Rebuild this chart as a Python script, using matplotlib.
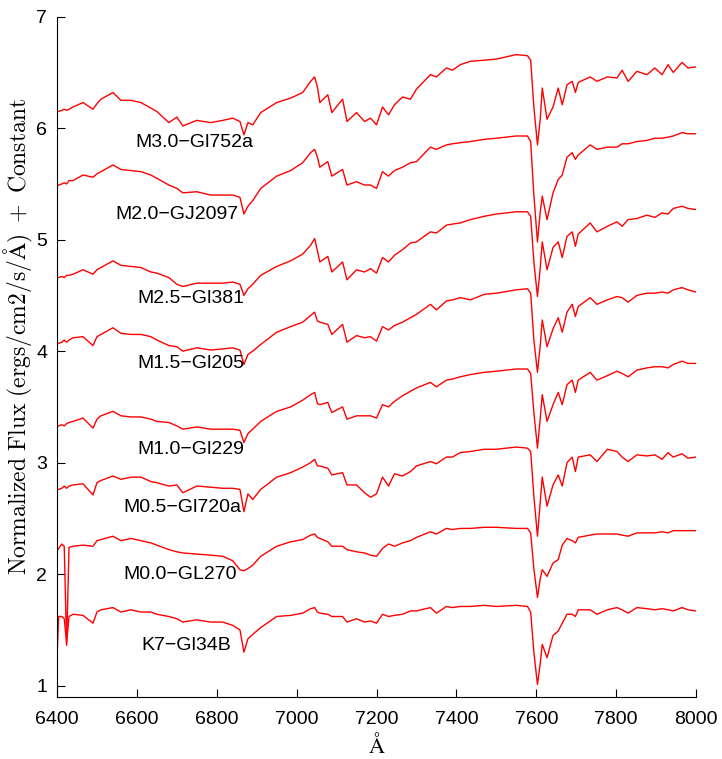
import matplotlib.pyplot as plt

plt.rcParams['font.family'] = ['Liberation Sans', 'DejaVu Sans']
plt.rcParams['mathtext.fontset'] = 'cm'

# wavelength grid (Angstrom), shared by all spectra
wave = [6400, 6404, 6412, 6418, 6424, 6430, 6440, 6465, 6490, 6500, 6510,
        6540, 6560, 6585, 6610, 6635, 6650, 6680, 6700, 6715, 6750,
        6785, 6815, 6840, 6858, 6868, 6878, 6890, 6910, 6950, 6985,
        7015, 7035, 7045, 7052, 7058, 7078, 7088, 7115, 7126, 7150,
        7170, 7185, 7200, 7215, 7230, 7245, 7265, 7285, 7300, 7335,
        7350, 7375, 7390, 7410, 7435, 7470, 7500, 7550, 7578, 7586,
        7594, 7603, 7610, 7615, 7627, 7642, 7655, 7665, 7677, 7690,
        7698, 7705, 7735, 7752, 7778, 7802, 7815, 7830, 7852, 7877,
        7897, 7915, 7930, 7943, 7965, 7980, 8000]

m30 = [6.15, 6.15, 6.16, 6.17, 6.16, 6.17, 6.19, 6.23, 6.17, 6.22, 6.26,
       6.32, 6.25, 6.25, 6.23, 6.18, 6.15, 6.05, 6.10, 6.02, 6.07,
       6.05, 6.07, 6.09, 6.06, 5.94, 6.05, 6.03, 6.14, 6.23, 6.27,
       6.32, 6.42, 6.46, 6.37, 6.23, 6.30, 6.14, 6.26, 6.06, 6.14,
       6.06, 6.09, 6.03, 6.19, 6.12, 6.21, 6.28, 6.26, 6.35, 6.48,
       6.46, 6.54, 6.52, 6.57, 6.60, 6.61, 6.62, 6.66, 6.65, 6.61,
       6.19, 5.85, 6.08, 6.36, 6.08, 6.19, 6.36, 6.21, 6.39, 6.42,
       6.32, 6.41, 6.46, 6.42, 6.46, 6.45, 6.52, 6.42, 6.51, 6.48,
       6.54, 6.48, 6.57, 6.50, 6.59, 6.54, 6.55]

m20 = [5.48, 5.49, 5.50, 5.51, 5.50, 5.53, 5.53, 5.58, 5.56, 5.59, 5.61,
       5.67, 5.63, 5.62, 5.61, 5.58, 5.55, 5.49, 5.46, 5.42, 5.43,
       5.40, 5.40, 5.40, 5.38, 5.23, 5.30, 5.35, 5.46, 5.57, 5.62,
       5.69, 5.78, 5.81, 5.74, 5.65, 5.70, 5.57, 5.63, 5.49, 5.52,
       5.49, 5.49, 5.46, 5.61, 5.57, 5.62, 5.65, 5.69, 5.70, 5.83,
       5.81, 5.85, 5.86, 5.87, 5.88, 5.90, 5.91, 5.93, 5.93, 5.88,
       5.40, 4.98, 5.25, 5.39, 5.18, 5.42, 5.54, 5.58, 5.74, 5.78,
       5.72, 5.76, 5.85, 5.81, 5.83, 5.83, 5.86, 5.86, 5.88, 5.89,
       5.91, 5.91, 5.92, 5.93, 5.96, 5.95, 5.95]

m25 = [4.66, 4.66, 4.67, 4.66, 4.68, 4.68, 4.69, 4.73, 4.69, 4.73, 4.75,
       4.81, 4.77, 4.76, 4.75, 4.71, 4.70, 4.66, 4.60, 4.58, 4.61,
       4.61, 4.61, 4.62, 4.60, 4.50, 4.56, 4.60, 4.68, 4.76, 4.81,
       4.87, 4.95, 5.01, 4.90, 4.80, 4.85, 4.71, 4.80, 4.64, 4.73,
       4.71, 4.74, 4.70, 4.84, 4.80, 4.86, 4.91, 4.97, 4.98, 5.07,
       5.06, 5.13, 5.14, 5.15, 5.18, 5.21, 5.23, 5.25, 5.25, 5.21,
       4.80, 4.49, 4.75, 4.98, 4.73, 4.93, 4.98, 4.84, 5.03, 5.07,
       4.94, 5.05, 5.15, 5.07, 5.12, 5.16, 5.12, 5.18, 5.19, 5.22,
       5.20, 5.24, 5.23, 5.28, 5.30, 5.28, 5.27]

m15 = [4.07, 4.07, 4.08, 4.10, 4.08, 4.10, 4.12, 4.13, 4.05, 4.13, 4.15,
       4.21, 4.16, 4.15, 4.15, 4.13, 4.10, 4.05, 4.04, 4.00, 4.03,
       4.01, 4.02, 4.03, 4.01, 3.88, 3.97, 4.00, 4.06, 4.17, 4.22,
       4.26, 4.32, 4.35, 4.27, 4.26, 4.24, 4.15, 4.24, 4.08, 4.14,
       4.12, 4.13, 4.09, 4.22, 4.19, 4.23, 4.26, 4.30, 4.33, 4.42,
       4.37, 4.45, 4.46, 4.48, 4.46, 4.51, 4.52, 4.55, 4.56, 4.52,
       4.10, 3.81, 4.05, 4.28, 4.04, 4.20, 4.30, 4.17, 4.35, 4.42,
       4.31, 4.40, 4.48, 4.42, 4.46, 4.49, 4.48, 4.44, 4.50, 4.52,
       4.52, 4.53, 4.52, 4.55, 4.57, 4.55, 4.53]

m10 = [3.32, 3.33, 3.34, 3.33, 3.35, 3.36, 3.37, 3.40, 3.31, 3.39, 3.42,
       3.46, 3.42, 3.41, 3.41, 3.39, 3.37, 3.36, 3.33, 3.30, 3.32,
       3.30, 3.30, 3.30, 3.29, 3.18, 3.26, 3.30, 3.37, 3.46, 3.50,
       3.56, 3.61, 3.63, 3.53, 3.52, 3.54, 3.45, 3.50, 3.39, 3.42,
       3.42, 3.42, 3.40, 3.52, 3.50, 3.55, 3.60, 3.64, 3.67, 3.72,
       3.68, 3.74, 3.75, 3.77, 3.79, 3.81, 3.82, 3.84, 3.84, 3.80,
       3.45, 3.13, 3.40, 3.61, 3.37, 3.52, 3.63, 3.52, 3.70, 3.74,
       3.63, 3.74, 3.81, 3.74, 3.78, 3.82, 3.80, 3.77, 3.83, 3.85,
       3.86, 3.86, 3.85, 3.88, 3.91, 3.89, 3.89]

m05 = [2.76, 2.76, 2.77, 2.79, 2.77, 2.79, 2.80, 2.81, 2.71, 2.82, 2.84,
       2.88, 2.85, 2.87, 2.87, 2.83, 2.82, 2.79, 2.80, 2.73, 2.79,
       2.78, 2.77, 2.77, 2.76, 2.56, 2.72, 2.67, 2.76, 2.87, 2.91,
       2.96, 3.00, 3.03, 2.97, 2.97, 2.95, 2.89, 2.91, 2.80, 2.80,
       2.73, 2.69, 2.72, 2.87, 2.79, 2.90, 2.88, 2.92, 2.97, 3.01,
       2.99, 3.05, 3.05, 3.09, 3.10, 3.12, 3.12, 3.14, 3.13, 3.10,
       2.70, 2.34, 2.65, 2.87, 2.61, 2.80, 2.89, 2.79, 3.00, 3.05,
       2.92, 3.05, 3.07, 3.01, 3.12, 3.10, 3.05, 3.01, 3.07, 3.06,
       3.07, 3.03, 3.09, 3.05, 3.08, 3.04, 3.05]

m00 = [2.21, 2.23, 2.27, 2.25, 1.36, 2.24, 2.25, 2.26, 2.25, 2.30, 2.31,
       2.34, 2.30, 2.32, 2.30, 2.28, 2.26, 2.22, 2.20, 2.19, 2.18,
       2.17, 2.16, 2.12, 2.04, 2.03, 2.05, 2.08, 2.16, 2.25, 2.29,
       2.31, 2.35, 2.36, 2.33, 2.32, 2.29, 2.25, 2.25, 2.22, 2.20,
       2.19, 2.17, 2.16, 2.23, 2.27, 2.25, 2.28, 2.30, 2.33, 2.38,
       2.36, 2.41, 2.40, 2.41, 2.41, 2.42, 2.42, 2.41, 2.41, 2.37,
       2.05, 1.79, 1.96, 2.04, 1.98, 2.10, 2.13, 2.26, 2.32, 2.30,
       2.28, 2.33, 2.35, 2.36, 2.36, 2.36, 2.35, 2.34, 2.37, 2.37,
       2.37, 2.38, 2.37, 2.39, 2.39, 2.39, 2.39]

k7 = [1.26, 1.62, 1.62, 1.60, 1.38, 1.62, 1.64, 1.63, 1.56, 1.66, 1.68,
      1.70, 1.66, 1.68, 1.66, 1.66, 1.64, 1.62, 1.60, 1.57, 1.59,
      1.57, 1.57, 1.54, 1.50, 1.30, 1.42, 1.46, 1.52, 1.62, 1.63,
      1.65, 1.69, 1.70, 1.66, 1.65, 1.64, 1.62, 1.62, 1.57, 1.60,
      1.57, 1.58, 1.56, 1.64, 1.62, 1.63, 1.64, 1.67, 1.67, 1.70,
      1.65, 1.71, 1.70, 1.71, 1.71, 1.72, 1.71, 1.72, 1.71, 1.66,
      1.30, 1.01, 1.20, 1.37, 1.25, 1.45, 1.49, 1.56, 1.64, 1.64,
      1.62, 1.68, 1.68, 1.64, 1.68, 1.70, 1.68, 1.65, 1.70, 1.69,
      1.68, 1.69, 1.68, 1.67, 1.70, 1.68, 1.67]

spectra = [m30, m20, m25, m15, m10, m05, m00, k7]
names = ['M3.0\u2212Gl752a', 'M2.0\u2212GJ2097', 'M2.5\u2212Gl381', 'M1.5\u2212Gl205',
         'M1.0\u2212Gl229', 'M0.5\u2212Gl720a', 'M0.0\u2212GL270', 'K7\u2212Gl34B']
label_x = [6595, 6545, 6600, 6600, 6600, 6565, 6565, 6610]
label_y = [5.87, 5.23, 4.47, 3.89, 3.12, 2.60, 2.00, 1.36]

fig = plt.figure(figsize=(7.22, 7.59), dpi=100)
ax = fig.add_axes([0.079, 0.082, 0.885, 0.896])

for flux in spectra:
    ax.plot(wave, flux, color='red', lw=1.0)

for name, lx, ly in zip(names, label_x, label_y):
    ax.text(lx, ly, name, fontsize=14, ha='left', va='center')

ax.set_xlim(6400, 8000)
ax.set_ylim(0.9, 7)
ax.set_xticks(range(6400, 8001, 200))
ax.set_yticks(range(1, 8))
ax.spines['top'].set_visible(False)
ax.spines['right'].set_visible(False)
ax.tick_params(direction='in', length=6, labelsize=14)
ax.tick_params(axis='x', pad=10)
ax.tick_params(axis='y', pad=7)
ax.set_xlabel(r'$\mathrm{\AA}$', fontsize=16)
ax.set_ylabel(r'$\mathrm{Normalized\ Flux\ (ergs/cm2/s/\AA)\ +\ Constant}$', fontsize=17)
ax.xaxis.set_label_coords(0.5, -0.054)
ax.yaxis.set_label_coords(-0.035, 0.53)

fig.savefig('out.png', dpi=100)
